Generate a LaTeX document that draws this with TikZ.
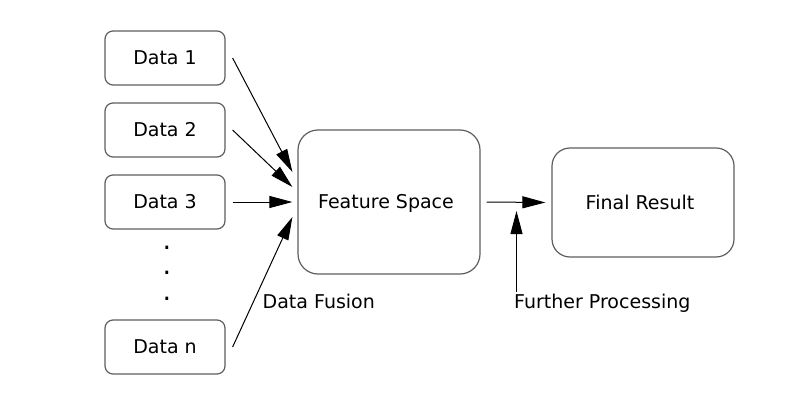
\documentclass[tikz,border=0pt]{standalone}
\usepackage{fontspec}
\setmainfont{DejaVu Sans}
\usetikzlibrary{arrows.meta}
\definecolor{boxgray}{HTML}{5E5E5E}

\begin{document}
\begin{tikzpicture}[x=1pt,y=-1pt,
		databox/.style={draw=boxgray,line width=1.2pt,rounded corners=8pt,minimum width=120pt,minimum height=54pt,inner sep=0pt,text height=13.5pt,text depth=0pt,font=\fontsize{19}{23}\selectfont},
		bigbox/.style={databox,rounded corners=20pt,minimum width=182pt},
		lbl/.style={inner sep=0pt,anchor=base west,font=\fontsize{19}{23}\selectfont},
		arr/.style={-{Triangle[length=23pt,width=12pt]},line width=1pt,draw=black}]
		\useasboundingbox (0,0) rectangle (811,420);
		% data boxes
		\node[databox] (d1) at (165,58) {Data 1};
		\node[databox] (d2) at (165,130) {Data 2};
		\node[databox] (d3) at (165,202) {Data 3};
		\node[databox] (dn) at (165,347) {Data n};
		\foreach \y [count=\i] in {249.5,274.5,300.5}
			\node[inner sep=0pt,anchor=base,font=\fontsize{27}{30}\selectfont] (dot\i) at (167,\y) {.};
		% feature space and result
		\node[bigbox,minimum height=144pt] (fs) at (389,202) {\hspace*{-6pt}Feature Space};
		\node[bigbox,minimum height=109pt,rounded corners=18pt] (fr) at (643,202.5) {\hspace*{-6pt}Final Result};
		\node[lbl] (df) at (262.5,308.5) {Data Fusion};
		\node[lbl] (fp) at (514,308.5) {Further Processing};
		\coordinate (fpend) at (516.5,211);
		% arrows
		\draw[arr] ([xshift=7pt]d1.east) -- ([xshift=-5pt,yshift=30pt]fs.west);
		\draw[arr] ([xshift=7pt]d2.east) -- ([xshift=-5pt,yshift=15pt]fs.west);
		\draw[arr] ([xshift=7pt]d3.east) -- ([xshift=-5pt]fs.west);
		\draw[arr] ([xshift=7pt]dn.east) -- ([xshift=-5pt,yshift=-15pt]fs.west);
		\draw[arr] ([xshift=6pt]fs.east) -- ([xshift=-6pt]fr.west);
		\draw[arr] ([xshift=2.5pt,yshift=1.5pt]fp.north west) -- (fpend);
	\end{tikzpicture}
\end{document}
